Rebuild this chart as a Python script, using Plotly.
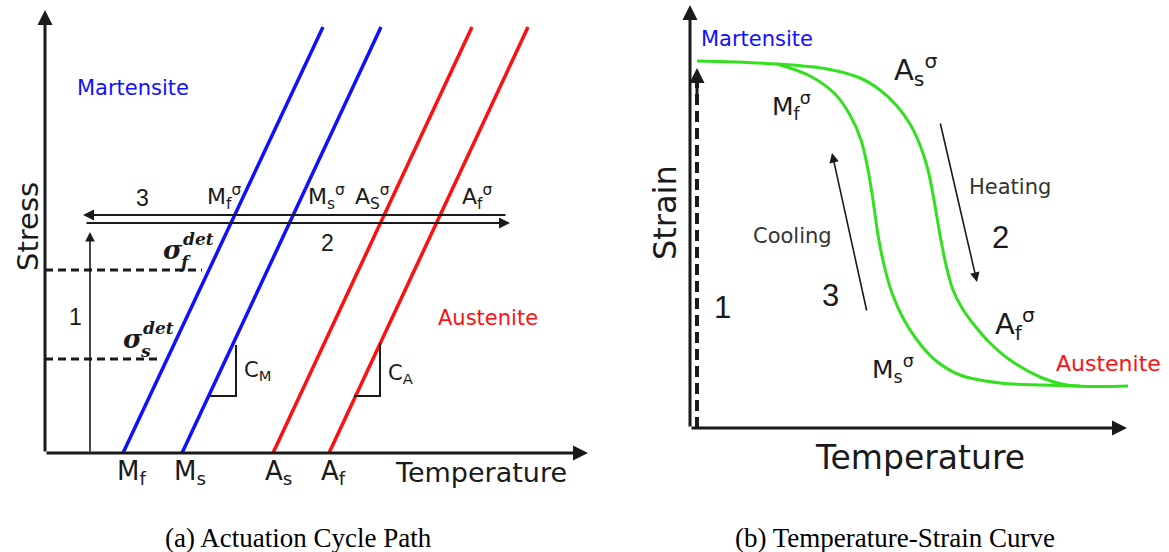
import plotly.graph_objects as go

# ---------------- Panel (a): Actuation cycle path (stress vs temperature) -------------
trans_labels = ["M<sub>f</sub>", "M<sub>s</sub>", "A<sub>s</sub>", "A<sub>f</sub>"]
trans_T0 = [78, 137, 228, 284]          # stress-free transformation temperatures
trans_Ttop = [278, 336, 427, 483]       # temperature at top of each line
trans_top_stress = 426
trans_sigma_labels = ["M<sub>f</sub><sup>σ</sup>", "M<sub>s</sub><sup>σ</sup>",
                      "A<sub>S</sub><sup>σ</sup>", "A<sub>f</sub><sup>σ</sup>"]
trans_sigma_T = [179, 281, 327, 432]
path_stress_cool = 238                  # path 3 (cooling)
path_stress_heat = 230                  # path 2 (heating)
path_T = [38, 465]
load_T = 45                             # path 1 (loading)
load_stress_max = 221
sigma_det_names = ["f", "s"]
sigma_det_stress = [183, 94]
sigma_det_T_end = [157, 117]
slope_M_T = [164, 191, 191]
slope_M_S = [57, 57, 108]
slope_A_T = [309, 335, 335]
slope_A_S = [57, 57, 110]
axA_T_max, axA_S_max = 543, 443

# ---------------- Panel (b): Temperature-strain curve -------------------------------
heat_T = [7, 87, 137, 170, 190, 207, 220, 230, 238, 244, 250, 256, 263, 272, 285,
          300, 320, 350, 377, 438]
heat_e = [367, 364, 359, 350, 338, 322, 304, 283, 258, 228, 193, 163, 138, 120, 102,
          85, 68, 51, 43, 42]
cool_T = [87, 120, 145, 160, 171, 178, 183, 188, 194, 202, 213, 227, 245, 270, 310,
          353, 390]
cool_e = [364, 352, 334, 313, 288, 258, 228, 193, 163, 135, 110, 88, 68, 53, 45,
          43, 42]
load_b_T = 7
load_b_e = [0, 345, 360]
heat_arrow_T = [250, 287]
heat_arrow_e = [306, 146]
cool_arrow_T = [177, 142]
cool_arrow_e = [116, 275]
axB_T_max, axB_e_max = 437, 423

BLUE = "#1010ff"
RED = "#ff1010"
GREEN = "#33e020"
INK = "#1a1a1a"

fig = go.Figure()

# transformation lines
for i in range(4):
    fig.add_trace(go.Scatter(x=[trans_T0[i], trans_Ttop[i]], y=[0, trans_top_stress],
                             mode="lines", line=dict(color=BLUE if i < 2 else RED, width=3.5),
                             xaxis="x", yaxis="y", hoverinfo="skip"))
# dashed sigma det lines
for i in range(2):
    fig.add_trace(go.Scatter(x=[0, sigma_det_T_end[i]], y=[sigma_det_stress[i]] * 2,
                             mode="lines", line=dict(color=INK, width=3, dash="8px,5px"),
                             xaxis="x", yaxis="y", hoverinfo="skip"))
# slope triangles
fig.add_trace(go.Scatter(x=slope_M_T, y=slope_M_S, mode="lines",
                         line=dict(color=INK, width=2), xaxis="x", yaxis="y", hoverinfo="skip"))
fig.add_trace(go.Scatter(x=slope_A_T, y=slope_A_S, mode="lines",
                         line=dict(color=INK, width=2), xaxis="x", yaxis="y", hoverinfo="skip"))

# panel b curves
fig.add_trace(go.Scatter(x=heat_T, y=heat_e, mode="lines",
                         line=dict(color=GREEN, width=3, shape="spline", smoothing=1.0),
                         xaxis="x2", yaxis="y2", hoverinfo="skip"))
fig.add_trace(go.Scatter(x=cool_T, y=cool_e, mode="lines",
                         line=dict(color=GREEN, width=3, shape="spline", smoothing=1.0),
                         xaxis="x2", yaxis="y2", hoverinfo="skip"))
fig.add_trace(go.Scatter(x=[load_b_T, load_b_T], y=load_b_e[:2], mode="lines",
                         line=dict(color=INK, width=4, dash="11px,6px"),
                         xaxis="x2", yaxis="y2", hoverinfo="skip"))

ann = []


def arrow(x0, y0, x1, y1, ax="x", ay="y", w=3, size=1.0, head=2, color=INK):
    ann.append(dict(x=x1, y=y1, ax=x0, ay=y0, xref=ax, yref=ay, axref=ax, ayref=ay,
                    text="", showarrow=True, arrowhead=head, arrowsize=size,
                    arrowwidth=w, arrowcolor=color))


def label(x, y, text, size, ax="x", ay="y", color=INK, font="DejaVu Sans", angle=0,
          xanchor="center", yanchor="middle"):
    ann.append(dict(x=x, y=y, xref=ax, yref=ay, text=text, showarrow=False,
                    font=dict(size=size, color=color, family=font), textangle=angle,
                    xanchor=xanchor, yanchor=yanchor))


# panel a axes
arrow(0, 0, 0, axA_S_max, w=3, size=1.0)
arrow(0, 0, axA_T_max, 0, w=3, size=1.0)
# path arrows
arrow(path_T[1] - 3, path_stress_cool, path_T[0], path_stress_cool, w=2, size=1.1)
arrow(path_T[0] + 2, path_stress_heat, path_T[1], path_stress_heat, w=2, size=1.1)
arrow(load_T, 0, load_T, load_stress_max, w=1.6, size=1.2)

# panel a labels
label(88, 365, "Martensite", 21, color=BLUE)
label(443, 135, "Austenite", 21, color=RED)
label(-17, 226, "Stress", 29, angle=-90)
label(436, -19, "Temperature", 27)
offs = [8, 8, 5, 4]
for i in range(4):
    label(trans_T0[i] + offs[i], -19, trans_labels[i], 26)
for i in range(4):
    label(trans_sigma_T[i], 256, trans_sigma_labels[i], 22)
label(97, 255, "3", 23, font="Liberation Sans")
label(282, 210, "2", 23, font="Liberation Sans")
label(30, 136, "1", 23, font="Liberation Sans")
for i in range(2):
    s = sigma_det_stress[i]
    xe = sigma_det_T_end[i]
    label(xe - 29, s + 20, "<b><i>σ</i></b>", 26, font="DejaVu Serif")
    label(xe - 4, s + 31, "<b><i>det</i></b>", 17, font="DejaVu Serif")
    label(xe - 17, s + 8, "<b><i>%s</i></b>" % sigma_det_names[i], 17, font="DejaVu Serif")
label(212, 82, "C<sub>M</sub>", 21)
label(355, 79, "C<sub>A</sub>", 21)

# panel b axes and arrows
arrow(0, 0, 0, axB_e_max, ax="x2", ay="y2", w=3, size=1.0)
arrow(0, 0, axB_T_max, 0, ax="x2", ay="y2", w=3, size=1.0)
arrow(load_b_T, load_b_e[1] - 20, load_b_T, load_b_e[2], ax="x2", ay="y2", w=3, size=1.0)
arrow(heat_arrow_T[0], heat_arrow_e[0], heat_arrow_T[1], heat_arrow_e[1],
      ax="x2", ay="y2", w=1.6, size=1.2)
arrow(cool_arrow_T[0], cool_arrow_e[0], cool_arrow_T[1], cool_arrow_e[1],
      ax="x2", ay="y2", w=1.6, size=1.2)

# panel b labels
label(67, 389, "Martensite", 21, ax="x2", ay="y2", color=BLUE)
label(418, 65, "Austenite", 22, ax="x2", ay="y2", color=RED)
label(-25, 215, "Strain", 32, ax="x2", ay="y2", angle=-90)
label(230, -29, "Temperature", 33, ax="x2", ay="y2")
label(225, 358, "A<sub>s</sub><sup>σ</sup>", 29, ax="x2", ay="y2")
label(101, 322, "M<sub>f</sub><sup>σ</sup>", 25, ax="x2", ay="y2")
label(320, 241, "Heating", 21, ax="x2", ay="y2", color="#333")
label(102, 192, "Cooling", 21, ax="x2", ay="y2", color="#333")
label(310, 191, "2", 31, ax="x2", ay="y2", font="Liberation Sans")
label(140, 133, "3", 31, ax="x2", ay="y2", font="Liberation Sans")
label(32, 121, "1", 31, ax="x2", ay="y2", font="Liberation Sans")
label(325, 104, "A<sub>f</sub><sup>σ</sup>", 29, ax="x2", ay="y2")
label(203, 59, "M<sub>s</sub><sup>σ</sup>", 25, ax="x2", ay="y2")

# captions
ann.append(dict(x=298 / 1169, y=(552 - 538) / 552, xref="paper", yref="paper",
                text="(a) Actuation Cycle Path", showarrow=False,
                font=dict(size=27, family="Liberation Serif", color="black"),
                xanchor="center", yanchor="middle"))
ann.append(dict(x=895 / 1169, y=(552 - 538) / 552, xref="paper", yref="paper",
                text="(b) Temperature-Strain Curve", showarrow=False,
                font=dict(size=27, family="Liberation Serif", color="black"),
                xanchor="center", yanchor="middle"))

hidden = dict(visible=False, showgrid=False, zeroline=False, fixedrange=True)
fig.update_layout(
    width=1169, height=552, margin=dict(l=0, r=0, t=0, b=0),
    paper_bgcolor="white", plot_bgcolor="rgba(0,0,0,0)", showlegend=False,
    xaxis=dict(domain=[0, 1], range=[-45, 1124], anchor="y", **hidden),
    yaxis=dict(domain=[0, 1], range=[-99, 453], anchor="x", **hidden),
    xaxis2=dict(domain=[0, 1], range=[-690, 479], anchor="y2", overlaying="x", **hidden),
    yaxis2=dict(domain=[0, 1], range=[-124, 428], anchor="x2", overlaying="y", **hidden),
    annotations=ann,
)

fig.write_html("out.html")
